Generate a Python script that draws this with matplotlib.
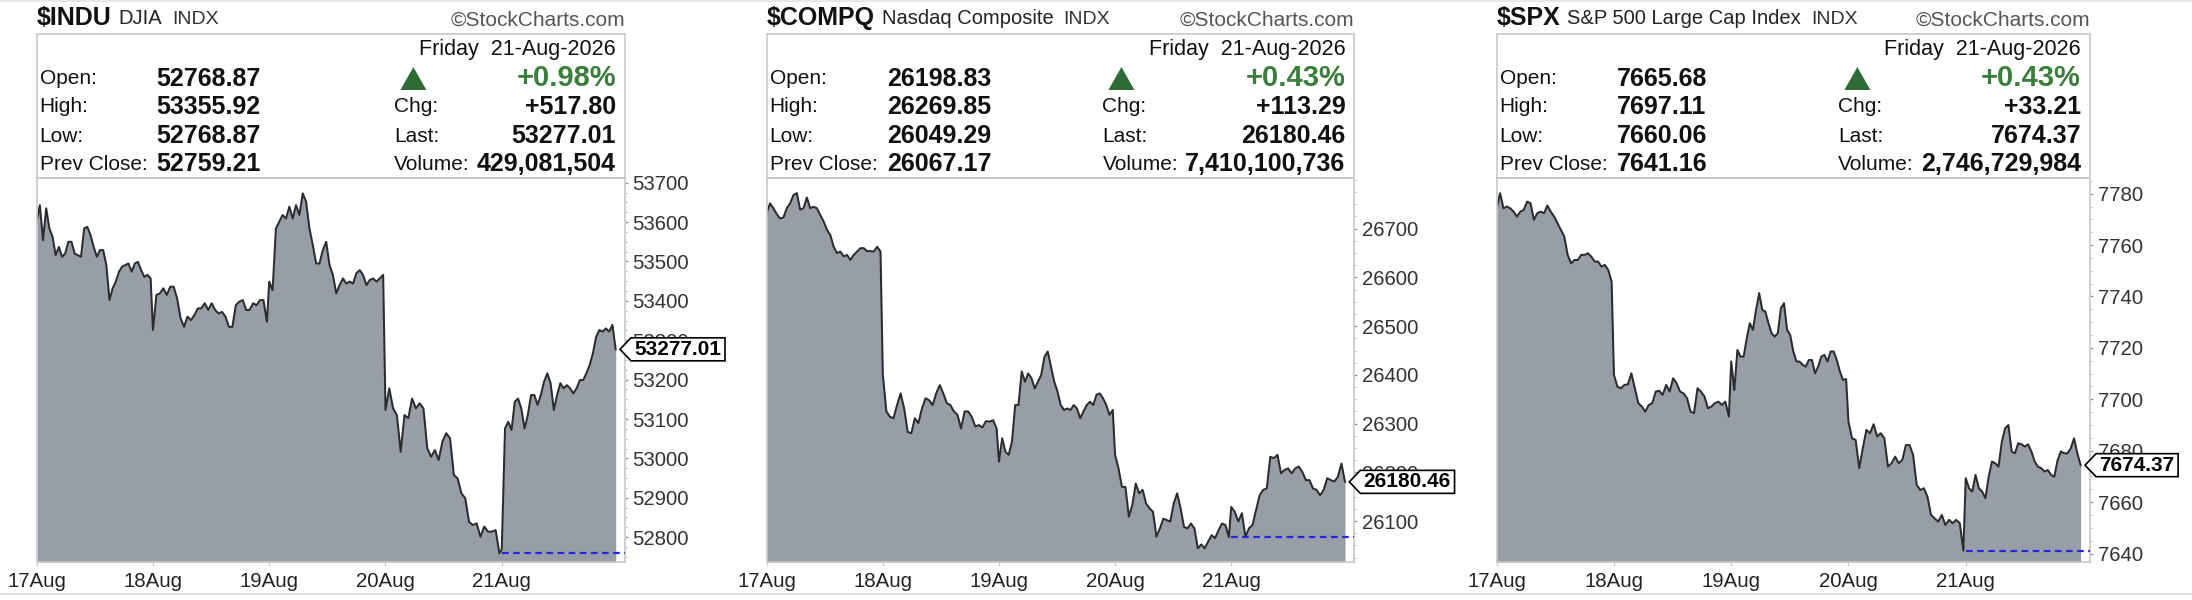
import numpy as np
import matplotlib
matplotlib.use('Agg')
import matplotlib.pyplot as plt
from matplotlib.patches import Polygon, Rectangle
from matplotlib.lines import Line2D
from matplotlib.ticker import AutoMinorLocator

plt.rcParams['font.family'] = ['Liberation Sans', 'DejaVu Sans']

# ---------------- data ----------------
DAYS = ['17Aug', '18Aug', '19Aug', '20Aug', '21Aug']
DATE_TEXT = 'Friday  21-Aug-2026'

INDU_17 = [53601, 53643, 53554, 53635, 53584, 53563, 53516, 53537, 53512, 53520, 53550, 53550, 53520,
           53516, 53512, 53584, 53588, 53567, 53537, 53512, 53529, 53529, 53491, 53402, 53432, 53449,
           53474, 53487, 53491, 53495, 53474, 53495, 53499, 53478, 53461, 53466, 53457]
INDU_18 = [53326, 53415, 53419, 53432, 53415, 53436, 53436, 53406, 53356, 53334, 53360, 53351, 53364,
           53381, 53381, 53394, 53377, 53394, 53377, 53368, 53372, 53360, 53334, 53334, 53389, 53398,
           53402, 53377, 53377, 53394, 53389, 53402, 53402, 53347]
INDU_19 = [53449, 53427, 53584, 53601, 53618, 53609, 53639, 53609, 53643, 53618, 53673, 53652, 53584,
           53542, 53495, 53495, 53529, 53550, 53491, 53466, 53419, 53440, 53457, 53444, 53449, 53444,
           53470, 53478, 53466, 53440, 53453, 53457, 53449, 53457, 53466]
INDU_20 = [53123, 53178, 53127, 53110, 53017, 53110, 53102, 53152, 53127, 53140, 53127, 53026, 53004,
           53021, 52996, 53043, 53064, 53051, 52958, 52949, 52911, 52899, 52839, 52831, 52835, 52801,
           52827, 52814, 52814, 52818, 52759]
INDU_21 = [52769, 53076, 53093, 53072, 53144, 53152, 53127, 53076, 53110, 53161, 53161, 53136, 53161,
           53195, 53216, 53191, 53123, 53161, 53191, 53178, 53186, 53178, 53165, 53178, 53199, 53199,
           53216, 53237, 53267, 53309, 53326, 53322, 53330, 53322, 53339, 53277.01]

COMPQ_17 = [26732, 26752, 26742, 26730, 26721, 26723, 26742, 26752, 26769, 26773, 26739, 26742, 26764,
            26742, 26745, 26742, 26728, 26715, 26698, 26687, 26663, 26650, 26653, 26643, 26646, 26636,
            26646, 26653, 26660, 26660, 26654, 26654, 26653, 26663, 26653]
COMPQ_18 = [26400, 26325, 26314, 26311, 26338, 26362, 26331, 26283, 26280, 26311, 26301, 26331, 26352,
            26348, 26338, 26362, 26379, 26362, 26342, 26338, 26325, 26318, 26290, 26325, 26325, 26314,
            26294, 26297, 26292, 26305, 26304, 26307, 26290]
COMPQ_19 = [26222, 26270, 26242, 26236, 26263, 26338, 26338, 26407, 26386, 26403, 26393, 26372, 26386,
            26400, 26437, 26448, 26417, 26386, 26366, 26338, 26328, 26331, 26328, 26338, 26331, 26311,
            26325, 26338, 26345, 26338, 26359, 26362, 26352, 26338, 26318, 26328]
COMPQ_20 = [26236, 26208, 26170, 26170, 26109, 26133, 26177, 26157, 26164, 26136, 26126, 26119, 26068,
            26085, 26105, 26102, 26099, 26136, 26157, 26126, 26088, 26085, 26095, 26085, 26044, 26052,
            26044, 26058, 26071, 26065, 26081, 26095, 26092, 26067]
COMPQ_21 = [26129, 26119, 26099, 26116, 26068, 26085, 26092, 26123, 26153, 26164, 26167, 26232, 26229,
            26236, 26198, 26205, 26208, 26198, 26208, 26212, 26201, 26184, 26184, 26167, 26164, 26153,
            26164, 26188, 26184, 26181, 26191, 26218, 26180.46]

SPX_17 = [7774.3, 7780.2, 7774.3, 7775.0, 7774.3, 7773.0, 7771.1, 7773.0, 7773.7, 7776.9, 7776.3,
          7769.8, 7772.4, 7773.0, 7772.4, 7775.4, 7773.0, 7771.1, 7768.5, 7765.9, 7763.3, 7756.2,
          7752.9, 7754.2, 7754.2, 7756.2, 7756.2, 7756.8, 7755.5, 7753.6, 7753.6, 7751.6, 7752.3,
          7750.3, 7745.8]
SPX_18 = [7709.5, 7704.9, 7704.3, 7705.6, 7705.8, 7710.1, 7704.3, 7698.5, 7697.2, 7695.2, 7697.8,
          7698.5, 7703.0, 7703.3, 7701.7, 7705.6, 7703.0, 7708.2, 7706.2, 7703.0, 7702.3, 7700.4,
          7695.2, 7694.6, 7704.3, 7703.0, 7701.1, 7696.5, 7697.2, 7698.5, 7699.1, 7697.8, 7699.1,
          7693.3]
SPX_19 = [7714.7, 7703.6, 7719.2, 7716.6, 7716.6, 7723.7, 7729.6, 7727.0, 7734.8, 7741.3, 7734.8,
          7734.1, 7729.6, 7725.7, 7724.4, 7725.7, 7735.4, 7737.4, 7727.0, 7725.0, 7718.6, 7714.7,
          7714.7, 7713.4, 7712.7, 7715.3, 7715.3, 7710.1, 7712.7, 7716.6, 7717.3, 7714.7, 7718.6,
          7718.6, 7715.3, 7710.8, 7707.5, 7707.9]
SPX_20 = [7691.3, 7684.8, 7684.2, 7673.2, 7681.0, 7688.1, 7686.8, 7690.3, 7685.5, 7686.8, 7684.8,
          7673.8, 7675.1, 7677.7, 7675.1, 7676.4, 7682.2, 7682.2, 7678.4, 7666.7, 7664.7, 7665.4,
          7662.1, 7655.0, 7653.7, 7652.4, 7655.0, 7651.1, 7653.1, 7651.8, 7653.1, 7651.8, 7641.16]
SPX_21 = [7669.3, 7665.4, 7664.1, 7670.6, 7665.4, 7664.1, 7661.5, 7669.9, 7675.8, 7675.1, 7673.8,
          7683.5, 7688.7, 7690.0, 7679.7, 7679.0, 7682.9, 7682.5, 7681.6, 7682.5, 7679.7, 7675.8,
          7673.8, 7673.2, 7671.9, 7672.5, 7670.6, 7669.9, 7676.4, 7679.7, 7679.0, 7679.0, 7680.9,
          7684.8, 7679.0, 7674.37]

SYMBOLS = ['$INDU', '$COMPQ', '$SPX']
NAMES = ['DJIA', 'Nasdaq Composite', 'S&P 500 Large Cap Index']
OPENS = [52768.87, 26198.83, 7665.68]
HIGHS = [53355.92, 26269.85, 7697.11]
LOWS = [52768.87, 26049.29, 7660.06]
PREV_CLOSES = [52759.21, 26067.17, 7641.16]
PCT_CHG = [0.98, 0.43, 0.43]
CHG = [517.80, 113.29, 33.21]
LAST = [53277.01, 26180.46, 7674.37]
VOLUME = [429081504, 7410100736, 2746729984]

INDU_TICKS = [52800, 52900, 53000, 53100, 53200, 53300, 53400, 53500, 53600, 53700]
COMPQ_TICKS = [26100, 26200, 26300, 26400, 26500, 26600, 26700]
SPX_TICKS = [7640, 7660, 7680, 7700, 7720, 7740, 7760, 7780]

SERIES = [[INDU_17, INDU_18, INDU_19, INDU_20, INDU_21],
          [COMPQ_17, COMPQ_18, COMPQ_19, COMPQ_20, COMPQ_21],
          [SPX_17, SPX_18, SPX_19, SPX_20, SPX_21]]
TICKS = [INDU_TICKS, COMPQ_TICKS, SPX_TICKS]

# ---------------- layout / style ----------------
W, H = 2192, 600
LEFTS = [36.7, 766.7, 1496.7]
RIGHTS = [625.0, 1354.3, 2090.0]
YLIMS = [(52737, 53712), (26016, 26804), (7636.7, 7786.1)]
XMAX = 5.06
DAY_SPAN = 0.98
BOX_TOP, AX_TOP, AX_BOT = 34, 178, 562

FILL = '#989ea6'
LINE = '#2a2c2e'
BORDER = '#c8c8c8'
GREEN_TXT = '#3b7d3b'
GREEN_TRI = '#2f6b34'
DASH_BLUE = '#2626e6'
VAL_SIZE = 18

fig = plt.figure(figsize=(W / 100, H / 100), dpi=100)
fig.patch.set_facecolor('white')
renderer = fig.canvas.get_renderer()


def fx(x):
    return x / W


def fy(y):
    return 1 - y / H


def ftext(x, y, s, **kw):
    return fig.text(fx(x), fy(y), s, **kw)


def wid(t):
    return t.get_window_extent(renderer).width


for i in range(3):
    L, R = LEFTS[i], RIGHTS[i]

    # ---- title row ----
    x = L
    t = ftext(x, 18, SYMBOLS[i], fontsize=18, fontweight='bold', color='#111', va='center', ha='left')
    x = t.get_window_extent(renderer).x1 + 7
    t = ftext(x, 19, NAMES[i], fontsize=14.5, color='#222', va='center', ha='left')
    x = t.get_window_extent(renderer).x1 + 10
    ftext(x, 19, 'INDX', fontsize=14, color='#333', va='center', ha='left')
    ftext(R, 20, '\u00a9StockCharts.com', fontsize=15, color='#555', va='center', ha='right')

    # ---- info box ----
    fig.add_artist(Rectangle((fx(L), fy(AX_TOP)), (R - L) / W, (AX_TOP - BOX_TOP) / H,
                             transform=fig.transFigure, fill=False, ec=BORDER, lw=1.2))
    ftext(R - 9, 49, DATE_TEXT, fontsize=15.5, color='#111', va='center', ha='right')
    rows_y = [79, 107, 136, 164]
    left_labels = ['Open:', 'High:', 'Low:', 'Prev Close:']
    left_vals = [OPENS[i], HIGHS[i], LOWS[i], PREV_CLOSES[i]]
    for yy, lab, v in zip(rows_y, left_labels, left_vals):
        ftext(L + 3, yy, lab, fontsize=15, color='#111', va='center', ha='left')
        ftext(L + 120, yy, f'{v:.2f}', fontsize=VAL_SIZE, fontweight='bold', color='#111',
              va='center', ha='left')

    vol_t = ftext(R - 9, rows_y[3], f'{VOLUME[i]:,}', fontsize=VAL_SIZE, fontweight='bold', color='#111',
                  va='center', ha='right')
    probe = ftext(0, 0, 'Volume:', fontsize=15)
    xr = (R - 9) - wid(vol_t) - 7 - wid(probe)
    probe.remove()

    ftext(R - 9, 78, f'+{PCT_CHG[i]:.2f}%', fontsize=21, fontweight='bold', color=GREEN_TXT,
          va='center', ha='right')
    ftext(xr, rows_y[1], 'Chg:', fontsize=15, color='#111', va='center', ha='left')
    ftext(R - 9, rows_y[1], f'+{CHG[i]:.2f}', fontsize=VAL_SIZE, fontweight='bold', color='#111',
          va='center', ha='right')
    ftext(xr, rows_y[2], 'Last:', fontsize=15, color='#111', va='center', ha='left')
    ftext(R - 9, rows_y[2], f'{LAST[i]:.2f}', fontsize=VAL_SIZE, fontweight='bold', color='#111',
          va='center', ha='right')
    ftext(xr, rows_y[3], 'Volume:', fontsize=15, color='#111', va='center', ha='left')
    cx = xr + 19
    fig.add_artist(Polygon([(fx(cx - 13), fy(90)), (fx(cx + 13), fy(90)), (fx(cx), fy(67))],
                           closed=True, transform=fig.transFigure, fc=GREEN_TRI, ec='none'))

    # ---- chart ----
    ax = fig.add_axes([fx(L), fy(AX_BOT), (R - L) / W, (AX_BOT - AX_TOP) / H])
    days = SERIES[i]
    vals = np.concatenate([np.asarray(d, float) for d in days])
    xs = np.concatenate([k + np.linspace(0, DAY_SPAN, len(d)) for k, d in enumerate(days)])
    y0, y1 = YLIMS[i]
    ax.fill_between(xs, vals, y0, color=FILL, lw=0, zorder=1)
    ax.plot(xs, vals, color=LINE, lw=1.45, zorder=2, solid_joinstyle='round')
    ax.plot([4, XMAX], [PREV_CLOSES[i]] * 2, color=DASH_BLUE, lw=1.6, ls=(0, (3, 2)),
            zorder=3, clip_on=False)
    ax.set_xlim(0, XMAX)
    ax.set_ylim(y0, y1)
    ax.set_xticks(range(5))
    ax.set_xticklabels(DAYS)
    ax.yaxis.tick_right()
    ax.set_yticks(TICKS[i])
    ax.set_yticklabels([str(v) for v in TICKS[i]])
    ax.yaxis.set_minor_locator(AutoMinorLocator(4))
    ax.tick_params(axis='y', which='major', length=2.5, width=1, color='#999', pad=3,
                   labelsize=14.7, labelcolor='#333')
    ax.tick_params(axis='y', which='minor', length=1.5, width=0.8, color='#bbb')
    ax.tick_params(axis='x', length=3, width=1, color='#ccc', pad=4, labelsize=14.7, labelcolor='#222')
    for s in ax.spines.values():
        s.set_color(BORDER)
        s.set_linewidth(1.2)

    # ---- last price tag ----
    yc = ax.transData.transform((0, LAST[i]))[1]
    tt = fig.text((R + 9) / W, yc / H, f'{LAST[i]:.2f}', fontsize=15, fontweight='bold',
                  color='#000', va='center', ha='left', zorder=11)
    bb = tt.get_window_extent(renderer)
    hh = 11.5
    pts = [(R - 5, yc), (bb.x0 - 3, yc + hh), (bb.x1 + 4, yc + hh), (bb.x1 + 4, yc - hh), (bb.x0 - 3, yc - hh)]
    fig.add_artist(Polygon([(px / W, py / H) for px, py in pts], closed=True,
                           transform=fig.transFigure, fc='white', ec='black', lw=1.2, zorder=10))

# frame lines of the screenshot
fig.add_artist(Line2D([0, 1], [fy(594), fy(594)], transform=fig.transFigure, color='#e0e0e0', lw=1.5))
fig.add_artist(Line2D([0, 1], [fy(1), fy(1)], transform=fig.transFigure, color='#e8e8e8', lw=1.5))

fig.savefig('out.png', dpi=100, facecolor='white')
